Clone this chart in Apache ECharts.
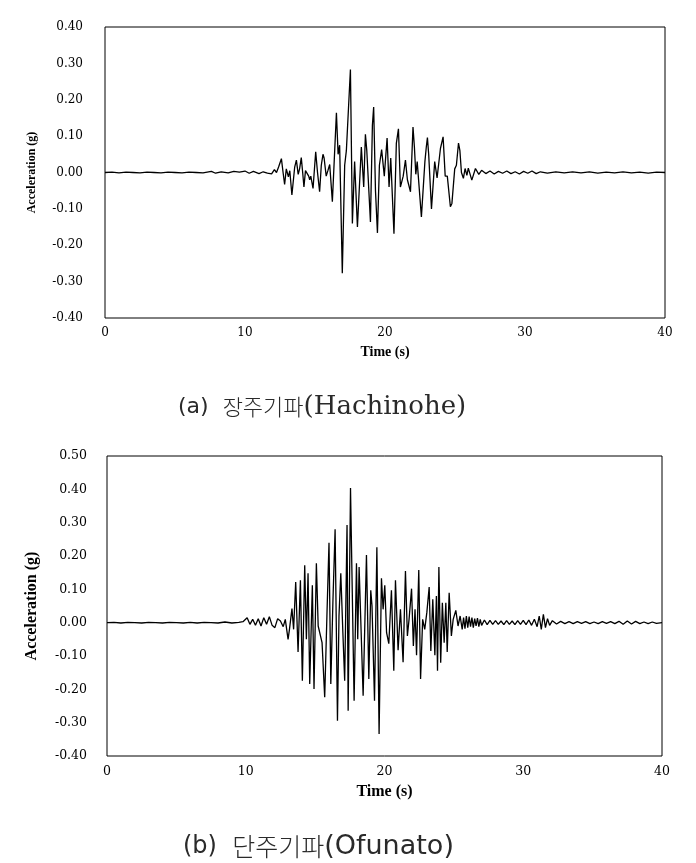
<!DOCTYPE html>
<html>
<head>
<meta charset="utf-8">
<script src="https://cdn.jsdelivr.net/npm/echarts@6/dist/echarts.min.js"></script>
<style>html,body{margin:0;padding:0;background:#fff}#c{width:696px;height:863px}</style>
</head>
<body>
<div id="c"></div>
<script>
// (a) Hachinohe — long-period wave
var timeA = [0,0.5,1,1.5,2,2.5,3,3.5,4,4.5,5,5.5,6,6.5,7,7.6,7.9,8.3,8.8,9.2,9.6,10.0,10.3,10.6,11.0,11.3,11.6,11.9,12.1,12.25,12.4,12.6,12.72,12.83,12.95,13.1,13.2,13.35,13.55,13.67,13.8,13.9,14.02,14.12,14.21,14.32,14.45,14.55,14.62,14.7,14.86,15.05,15.18,15.33,15.45,15.57,15.65,15.8,15.92,16.05,16.24,16.53,16.65,16.76,16.95,17.12,17.24,17.53,17.67,17.83,18.03,18.31,18.48,18.6,18.7,18.96,19.1,19.19,19.32,19.46,19.6,19.76,19.85,19.95,20.15,20.29,20.41,20.64,20.81,20.96,21.1,21.3,21.46,21.6,21.82,22.0,22.1,22.2,22.3,22.6,22.85,22.95,23.03,23.12,23.32,23.55,23.72,23.96,24.15,24.3,24.45,24.67,24.78,24.98,25.1,25.25,25.35,25.46,25.6,25.72,25.85,25.95,26.2,26.46,26.7,26.9,27.2,27.5,27.8,28.1,28.4,28.7,29.0,29.3,29.6,29.9,30.2,30.5,30.8,31.1,31.6,32.2,32.8,33.4,34,34.6,35.2,35.8,36.4,37,37.6,38.2,38.8,39.4,40];
var accA = [0,0.001,-0.001,0.001,0,-0.001,0.001,0,-0.001,0.001,0,-0.001,0.001,0,-0.001,0.003,-0.002,0.002,-0.001,0.003,0.001,0.004,-0.002,0.003,-0.003,0.002,-0.002,-0.004,0.008,0.0,0.015,0.038,0.0,-0.033,0.01,-0.012,0.005,-0.062,0.015,0.034,-0.005,0.01,0.041,0.0,-0.04,0.005,0.0,-0.01,-0.02,-0.01,-0.044,0.057,0.0,-0.053,0.02,0.05,0.04,-0.01,0.005,0.022,-0.08,0.164,0.05,0.075,-0.277,0.02,0.06,0.283,-0.14,0.03,-0.15,0.07,-0.04,0.105,0.06,-0.136,0.13,0.18,-0.05,-0.166,0.02,0.063,0.065,-0.01,0.095,-0.04,0.04,-0.168,0.08,0.12,-0.04,-0.01,0.034,-0.02,-0.053,0.125,0.07,-0.005,0.03,-0.122,0.03,0.07,0.096,0.05,-0.10,0.03,-0.015,0.066,0.098,-0.01,-0.01,-0.094,-0.085,0.01,0.02,0.081,0.06,0.0,-0.016,0.011,-0.008,0.012,-0.021,0.011,-0.005,0.006,-0.003,0.004,-0.004,0.003,-0.002,0.004,-0.003,0.002,-0.004,0.003,-0.002,0.004,-0.003,0.002,-0.002,0.002,-0.001,0.002,-0.001,0.002,-0.002,0.001,-0.001,0.002,-0.001,0.001,-0.002,0.001,0];

// (b) Ofunato — short-period wave
var timeB = [0,0.5,1,1.5,2,2.5,3,3.5,4,4.5,5,5.5,6,6.5,7,7.5,8,8.5,9,9.5,9.8,10.1,10.3,10.5,10.7,10.9,11.1,11.3,11.5,11.7,11.9,12.1,12.3,12.5,12.7,12.85,13.05,13.15,13.33,13.45,13.6,13.77,13.94,14.08,14.25,14.37,14.49,14.61,14.8,14.92,15.09,15.22,15.35,15.5,15.69,15.85,16.0,16.13,16.28,16.44,16.61,16.72,16.85,17.0,17.13,17.3,17.38,17.55,17.81,17.98,18.07,18.17,18.46,18.7,18.87,19.01,19.1,19.28,19.45,19.61,19.78,19.9,20.02,20.15,20.31,20.5,20.67,20.79,20.98,21.15,21.34,21.51,21.65,21.77,21.95,22.08,22.2,22.31,22.47,22.6,22.75,22.9,23.05,23.22,23.34,23.48,23.63,23.74,23.82,23.92,24.05,24.17,24.3,24.42,24.52,24.66,24.82,24.95,25.14,25.3,25.45,25.6,25.7,25.8,25.9,26.0,26.1,26.2,26.3,26.4,26.5,26.6,26.7,26.8,26.9,27.0,27.2,27.4,27.6,27.8,28.0,28.2,28.4,28.6,28.8,29.0,29.2,29.4,29.6,29.8,30.0,30.2,30.4,30.6,30.8,31.0,31.15,31.3,31.45,31.6,31.75,31.9,32.1,32.4,32.7,33,33.3,33.6,33.9,34.2,34.5,34.8,35.1,35.4,35.7,36,36.3,36.6,36.9,37.2,37.5,37.8,38.1,38.4,38.7,39,39.3,39.6,40];
var accB = [0,0.001,-0.001,0.001,0,-0.001,0.001,0,-0.001,0.001,0,-0.001,0.001,-0.001,0.001,0,-0.001,0.002,-0.001,0.001,0.003,0.015,-0.005,0.01,-0.008,0.012,-0.01,0.015,-0.005,0.018,-0.008,-0.015,0.012,0.005,-0.012,0.01,-0.05,-0.02,0.042,-0.02,0.122,-0.088,0.127,-0.174,0.172,-0.05,0.148,-0.184,0.112,-0.199,0.178,-0.01,-0.015,-0.06,-0.224,0.02,0.24,-0.184,0.06,0.28,-0.294,0.02,0.148,-0.03,-0.174,0.293,-0.264,0.404,-0.234,0.178,-0.05,0.167,-0.219,0.203,-0.169,0.097,0.05,-0.234,0.226,-0.334,0.133,0.04,0.112,-0.03,-0.063,0.097,-0.144,0.127,-0.083,0.04,-0.119,0.155,-0.04,0.01,0.102,-0.07,0.04,-0.098,0.158,-0.169,0.01,-0.02,0.03,0.107,-0.085,0.07,-0.098,0.08,-0.144,0.167,-0.12,0.06,-0.06,0.06,-0.088,0.09,-0.04,0.01,0.037,-0.01,0.02,-0.02,0.015,-0.018,0.02,-0.015,0.018,-0.012,0.015,-0.015,0.012,-0.01,0.014,-0.012,0.01,-0.008,0.008,-0.006,0.007,-0.005,0.006,-0.005,0.005,-0.006,0.006,-0.005,0.005,-0.006,0.006,-0.005,0.007,-0.006,0.008,-0.008,0.01,-0.012,0.02,-0.02,0.025,-0.015,0.012,-0.008,0.006,-0.004,0.004,-0.003,0.003,-0.003,0.003,-0.002,0.003,-0.003,0.002,-0.003,0.003,-0.002,0.003,-0.003,0.004,-0.005,0.005,-0.004,0.004,-0.003,0.002,-0.003,0.002,-0.002,0];

var xTicksA = [0,10,20,30,40];
var yRangeA = [-0.4, 0.4];
var yRangeB = [-0.4, 0.5];

function pairs(t, v){ return t.map(function(x,i){ return [x, v[i]]; }); }

var serif = 'DejaVu Serif';
var chart = echarts.init(document.getElementById('c'), null, {renderer:'canvas'});
chart.setOption({
  animation: false,
  backgroundColor: '#fff',
  title: [
    {text: '{p|(a)  }{k|장주기파}{b|(Hachinohe)}', left: 173, top: 389,
     textStyle: {fontWeight: 'normal', rich: {
       p: {fontFamily: 'DejaVu Sans', fontWeight: 'normal', fontSize: 22, color: '#2a2a2a'},
       k: {fontFamily: 'Noto Sans CJK KR', fontWeight: 300, fontSize: 22, color: '#2a2a2a'},
       b: {fontFamily: 'DejaVu Serif', fontWeight: 'normal', fontSize: 26, color: '#2a2a2a'}}}},
    {text: '{p|(b)  }{k|단주기파}{b|(Ofunato)}', left: 178, top: 828,
     textStyle: {fontWeight: 'normal', rich: {
       p: {fontFamily: 'DejaVu Sans', fontWeight: 'normal', fontSize: 24, color: '#2a2a2a'},
       k: {fontFamily: 'Noto Sans CJK KR', fontWeight: 300, fontSize: 25, color: '#2a2a2a'},
       b: {fontFamily: 'DejaVu Sans', fontWeight: 'normal', fontSize: 27, color: '#2a2a2a'}}}}
  ],
  grid: [
    {left: 105, top: 27, width: 560, height: 291, show: true, borderColor: '#000', borderWidth: 1, backgroundColor: 'transparent'},
    {left: 107, top: 456, width: 555, height: 300, show: true, borderColor: '#000', borderWidth: 1, backgroundColor: 'transparent'}
  ],
  xAxis: [
    {gridIndex: 0, type: 'value', min: 0, max: 40, interval: 10,
     name: 'Time (s)', nameLocation: 'middle', nameGap: 27,
     nameTextStyle: {fontFamily: 'Liberation Serif', fontWeight: 'bold', fontSize: 14, color: '#000'},
     axisLine: {show: false}, axisTick: {show: false}, splitLine: {show: false},
     axisLabel: {margin: 9, fontFamily: serif, fontSize: 12, color: '#000'}},
    {gridIndex: 1, type: 'value', min: 0, max: 40, interval: 10,
     name: 'Time (s)', nameLocation: 'middle', nameGap: 28,
     nameTextStyle: {fontFamily: 'Liberation Serif', fontWeight: 'bold', fontSize: 16, color: '#000'},
     axisLine: {show: false}, axisTick: {show: false}, splitLine: {show: false},
     axisLabel: {margin: 9, fontFamily: serif, fontSize: 12.5, color: '#000'}}
  ],
  yAxis: [
    {gridIndex: 0, type: 'value', min: yRangeA[0], max: yRangeA[1], interval: 0.1,
     name: 'Acceleration (g)', nameLocation: 'middle', nameGap: 67,
     nameTextStyle: {fontFamily: 'Liberation Serif', fontWeight: 'bold', fontSize: 12, color: '#000'},
     axisLine: {show: false}, axisTick: {show: false}, splitLine: {show: false},
     axisLabel: {margin: 22, fontFamily: serif, fontSize: 12, color: '#000',
       formatter: function(v){ return v.toFixed(2); }}},
    {gridIndex: 1, type: 'value', min: yRangeB[0], max: yRangeB[1], interval: 0.1,
     name: 'Acceleration (g)', nameLocation: 'middle', nameGap: 67,
     nameTextStyle: {fontFamily: 'Liberation Serif', fontWeight: 'bold', fontSize: 16, color: '#000'},
     axisLine: {show: false}, axisTick: {show: false}, splitLine: {show: false},
     axisLabel: {margin: 20, fontFamily: serif, fontSize: 12.5, color: '#000',
       formatter: function(v){ return v.toFixed(2); }}}
  ],
  series: [
    {type: 'line', xAxisIndex: 0, yAxisIndex: 0, data: pairs(timeA, accA), showSymbol: false,
     lineStyle: {color: '#000', width: 1.3}, silent: true},
    {type: 'line', xAxisIndex: 1, yAxisIndex: 1, data: pairs(timeB, accB), showSymbol: false,
     lineStyle: {color: '#000', width: 1.3}, silent: true}
  ]
});
</script>
</body>
</html>
